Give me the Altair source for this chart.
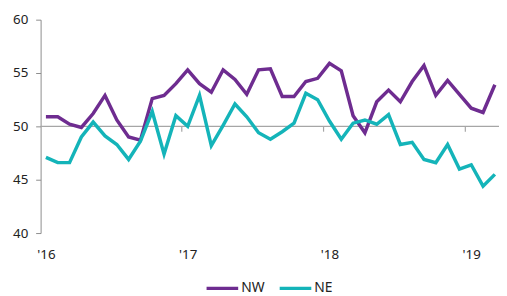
import altair as alt
import pandas as pd

months = list(range(39))  # Jan 2016 .. Mar 2019
nw = [50.9, 50.9, 50.2, 49.9, 51.2, 52.9, 50.6, 49.0, 48.7, 52.6, 52.9, 54.0,
      55.3, 54.0, 53.2, 55.3, 54.4, 53.0, 55.3, 55.4, 52.8, 52.8, 54.2, 54.5,
      55.9, 55.2, 51.0, 49.4, 52.3, 53.4, 52.3, 54.2, 55.7, 52.9, 54.3, 53.0,
      51.7, 51.3, 53.9]
ne = [47.1, 46.6, 46.6, 49.0, 50.4, 49.1, 48.3, 46.9, 48.6, 51.4, 47.4, 51.0,
      50.0, 52.9, 48.2, 50.1, 52.1, 50.9, 49.4, 48.8, 49.5, 50.3, 53.1, 52.5,
      50.5, 48.8, 50.3, 50.6, 50.2, 51.1, 48.3, 48.5, 46.9, 46.6, 48.3, 46.0,
      46.4, 44.4, 45.5]
series = ["NW", "NE"]
colors = ["#6E2C90", "#14B4B9"]
year_ticks = [0, 12, 24, 36]
year_labels = ["'16", "'17", "'18", "'19"]
y_ticks = [40, 45, 50, 55, 60]
boundary_ticks = [11.5, 23.5, 35.5]

df = pd.DataFrame({
    "m": months * 2,
    "v": nw + ne,
    "s": ["NW"] * len(months) + ["NE"] * len(months),
})

label_expr = " : ".join(
    [f"datum.value == {t} ? \"{l}\"" for t, l in zip(year_ticks, year_labels)]
) + " : ''"

FONT = "Noto Sans"
xscale = alt.Scale(domain=[-0.45, 38.35], nice=False, zero=False)
yscale = alt.Scale(domain=[40, 60], nice=False, zero=False)

x_axis = alt.Axis(values=year_ticks, labelExpr=label_expr, domain=False,
                  ticks=False, grid=False, labelPadding=15, title=None,
                  labelFont=FONT, labelFontSize=13.5, labelColor="#222",
                  labelFlush=False)
y_axis = alt.Axis(values=y_ticks, grid=False, title=None,
                  domainColor="#8c8c8c", tickColor="#8c8c8c",
                  tickSize=5, labelPadding=8, labelFont=FONT,
                  labelFontSize=13.5, labelColor="#222")

base_df = pd.DataFrame({"x1": [-0.45], "x2": [38.35], "y": [50]})
base_line = alt.Chart(base_df).mark_rule(color="#a6a6a6", strokeWidth=1.2).encode(
    x=alt.X("x1:Q", scale=xscale, axis=x_axis, title=None),
    x2="x2:Q",
    y=alt.Y("y:Q", scale=yscale, axis=y_axis, title=None),
)

ticks_df = pd.DataFrame({"t": boundary_ticks, "y1": [50] * 3, "y2": [49.5] * 3})
tick_marks = alt.Chart(ticks_df).mark_rule(color="#a6a6a6", strokeWidth=1.2).encode(
    x=alt.X("t:Q", scale=xscale, title=None),
    y=alt.Y("y1:Q", scale=yscale, title=None),
    y2="y2:Q",
)

lines = alt.Chart(df).mark_line(strokeWidth=3.5, strokeJoin="miter").encode(
    x=alt.X("m:Q", scale=xscale, title=None),
    y=alt.Y("v:Q", scale=yscale, title=None),
    color=alt.Color("s:N", scale=alt.Scale(domain=series, range=colors),
                    sort=series, title=None,
                    legend=alt.Legend(orient="none", legendX=166, legendY=254,
                                      direction="horizontal", symbolType="stroke",
                                      symbolSize=1024, symbolStrokeWidth=3.5,
                                      labelFont=FONT, labelFontSize=14,
                                      labelColor="#222", columnPadding=8,
                                      labelOffset=1, padding=0)),
)

chart = alt.layer(base_line, tick_marks, lines).properties(
    width=464, height=216,
    autosize=alt.AutoSizeParams(type="none"),
    padding={"left": 33, "top": 10, "right": 0, "bottom": 70},
).configure_view(stroke=None)

chart.save("out.html", embed_options={"renderer": "svg", "actions": False})
